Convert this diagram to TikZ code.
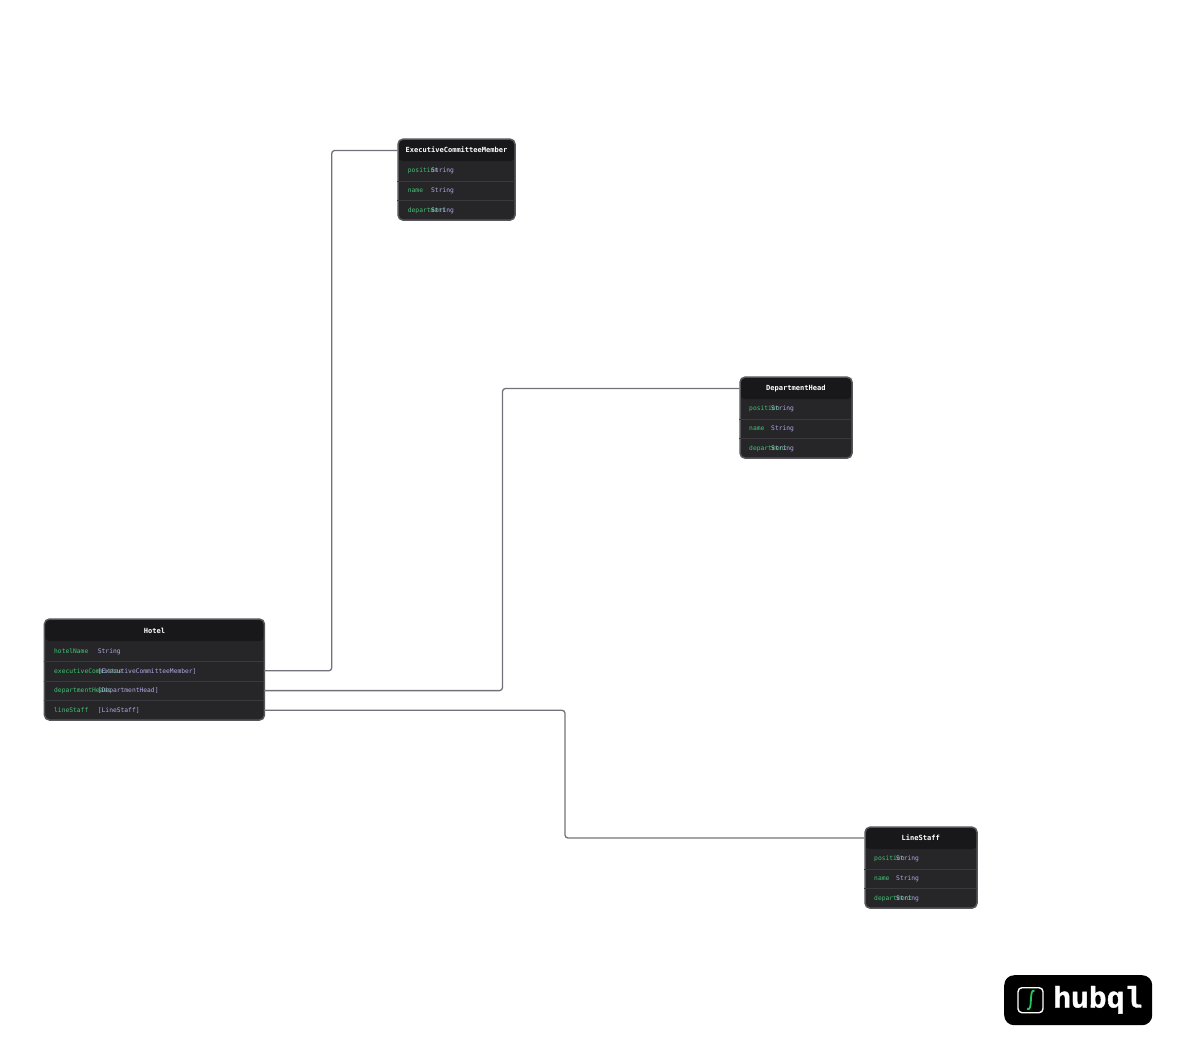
\documentclass[tikz,border=0pt]{standalone}
\usepackage{fontspec}
\setmonofont{DejaVu Sans Mono}
\newfontfamily\badgefont[FakeBold=1.4]{Liberation Mono Bold}
\definecolor{headfill}{HTML}{18181A}
\definecolor{rowfill}{HTML}{262628}
\definecolor{boxline}{HTML}{57575B}
\definecolor{rowrule}{HTML}{3A3A3E}
\definecolor{relline}{HTML}{71717A}
\definecolor{keygreen}{HTML}{3FC573}
\definecolor{typeviolet}{HTML}{B4A8E6}
\definecolor{brandgreen}{HTML}{22C55E}
\begin{document}
\begin{tikzpicture}[x=1pt, y=-1pt,
    table box/.style={draw=boxline, line width=1.5pt, fill=rowfill, rounded corners=5pt, anchor=north west, inner sep=0pt, minimum height=81pt,
      path picture={\fill[headfill] (path picture bounding box.north west) rectangle ([yshift=-22pt]path picture bounding box.north east);}},
    table title/.style={font=\ttfamily\bfseries\fontsize{7.05}{8}\selectfont, text=white, inner sep=0pt},
    table row/.style={anchor=north west, inner sep=0pt, minimum height=19.8pt},
    row line/.style={draw=rowrule, line width=0.7pt},
    key text/.style={font=\ttfamily\fontsize{6.3}{8}\selectfont, text=keygreen, anchor=west, inner sep=0pt, text height=4.5pt, text depth=1.3pt},
    type text/.style={font=\ttfamily\fontsize{6.3}{8}\selectfont, text=typeviolet, anchor=west, inner sep=0pt, text height=4.5pt, text depth=1.3pt},
    relation/.style={draw=relline, line width=1.3pt, rounded corners=3pt}]

  \useasboundingbox (0,0) rectangle (1188,1052);

  % Hotel
  \node[table box, minimum width=220pt, minimum height=101pt] (hotel) at (43.7,618.3) {};
  \node[table title] (hotelTitle) at (154.5,630.5) {Hotel};
  \node[table row, minimum width=220pt] (hotelName) at (43.7,640.9) {};
  \node[table row, minimum width=220pt] (hotelExec) at (43.7,660.7) {};
  \node[table row, minimum width=220pt] (hotelDept) at (43.7,680.5) {};
  \node[table row, minimum width=220pt] (hotelLine) at (43.7,700.2) {};
  \draw[row line] (hotelName.south west) -- (hotelName.south east);
  \draw[row line] (hotelExec.south west) -- (hotelExec.south east);
  \draw[row line] (hotelDept.south west) -- (hotelDept.south east);
  \node[key text] (hotelNameKey) at (54,651.7) {hotelName};
  \node[type text] (hotelNameType) at (97.7,651.7) {String};
  \node[key text] (hotelExecKey) at (54,671.7) {executiveCommittee};
  \node[type text] (hotelExecType) at (97.7,671.7) {[ExecutiveCommitteeMember]};
  \node[key text] (hotelDeptKey) at (54,691) {departmentHeads};
  \node[type text] (hotelDeptType) at (97.7,691) {[DepartmentHead]};
  \node[key text] (hotelLineKey) at (54,710.7) {lineStaff};
  \node[type text] (hotelLineType) at (97.7,710.7) {[LineStaff]};

  % ExecutiveCommitteeMember
  \node[table box, minimum width=117pt] (exec) at (397.3,138.4) {};
  \node[table title] (execTitle) at (456.5,149.7) {ExecutiveCommitteeMember};
  \node[table row, minimum width=117pt] (execPos) at (397.3,160.8) {};
  \node[table row, minimum width=117pt] (execName) at (397.3,180.3) {};
  \draw[row line] (execPos.south west) -- (execPos.south east);
  \draw[row line] (execName.south west) -- (execName.south east);
  \node[key text] (execPosKey) at (407.7,171) {position};
  \node[type text] (execPosType) at (431,171) {String};
  \node[key text] (execNameKey) at (407.7,191) {name};
  \node[type text] (execNameType) at (431,191) {String};
  \node[key text] (execDeptKey) at (407.7,211) {department};
  \node[type text] (execDeptType) at (431,211) {String};

  % DepartmentHead
  \node[table box, minimum width=112pt] (dept) at (739.3,376.4) {};
  \node[table title] (deptTitle) at (795.8,388.1) {DepartmentHead};
  \node[table row, minimum width=112pt] (deptPos) at (739.3,398.8) {};
  \node[table row, minimum width=112pt] (deptName) at (739.3,418.3) {};
  \draw[row line] (deptPos.south west) -- (deptPos.south east);
  \draw[row line] (deptName.south west) -- (deptName.south east);
  \node[key text] (deptPosKey) at (749,409) {position};
  \node[type text] (deptPosType) at (771,409) {String};
  \node[key text] (deptNameKey) at (749,429) {name};
  \node[type text] (deptNameType) at (771,429) {String};
  \node[key text] (deptDeptKey) at (749,449) {department};
  \node[type text] (deptDeptType) at (771,449) {String};

  % LineStaff
  \node[table box, minimum width=112pt] (line) at (864.3,826.4) {};
  \node[table title] (lineTitle) at (920.8,838.1) {LineStaff};
  \node[table row, minimum width=112pt] (linePos) at (864.3,848.8) {};
  \node[table row, minimum width=112pt] (lineName) at (864.3,868.3) {};
  \draw[row line] (linePos.south west) -- (linePos.south east);
  \draw[row line] (lineName.south west) -- (lineName.south east);
  \node[key text] (linePosKey) at (874,859) {position};
  \node[type text] (linePosType) at (896,859) {String};
  \node[key text] (lineNameKey) at (874,879) {name};
  \node[type text] (lineNameType) at (896,879) {String};
  \node[key text] (lineDeptKey) at (874,899) {department};
  \node[type text] (lineDeptType) at (896,899) {String};

  % relations
  \coordinate (execEnd) at (397.3,150.5);
  \coordinate (deptEnd) at (739.3,388.5);
  \coordinate (lineEnd) at (864.3,838);
  \coordinate (execBend) at (331.7,400);
  \coordinate (deptBend) at (502.5,500);
  \coordinate (lineBend) at (565,800);
  \draw[relation] (hotelExec.east) -- (hotelExec.east -| execBend) -- (execEnd -| execBend) -- (execEnd);
  \draw[relation] (hotelDept.east) -- (hotelDept.east -| deptBend) -- (deptEnd -| deptBend) -- (deptEnd);
  \draw[relation] (hotelLine.east) -- (hotelLine.east -| lineBend) -- (lineEnd -| lineBend) -- (lineEnd);

  % badge
  \node[fill=black, rounded corners=10pt, minimum width=148pt, minimum height=50pt, inner sep=0pt, anchor=north west] (badge) at (1004,975) {};
  \node[draw=white, line width=1.4pt, rounded corners=4pt, minimum size=25pt, inner sep=0pt] (badgeIcon) at (1030.5,1000.2) {};
  \draw[brandgreen, line width=1.8pt] (1034.5,990.8) .. controls (1031.5,990) and (1031.3,993) .. (1030.9,1000) .. controls (1030.5,1007) and (1030.2,1010) .. (1027,1008.8);
  \node[font=\badgefont\fontsize{29.7}{32}\selectfont, text=white, inner sep=0pt, anchor=base west] (badgeText) at (1053,1007.5) {hubql};

\end{tikzpicture}
\end{document}
